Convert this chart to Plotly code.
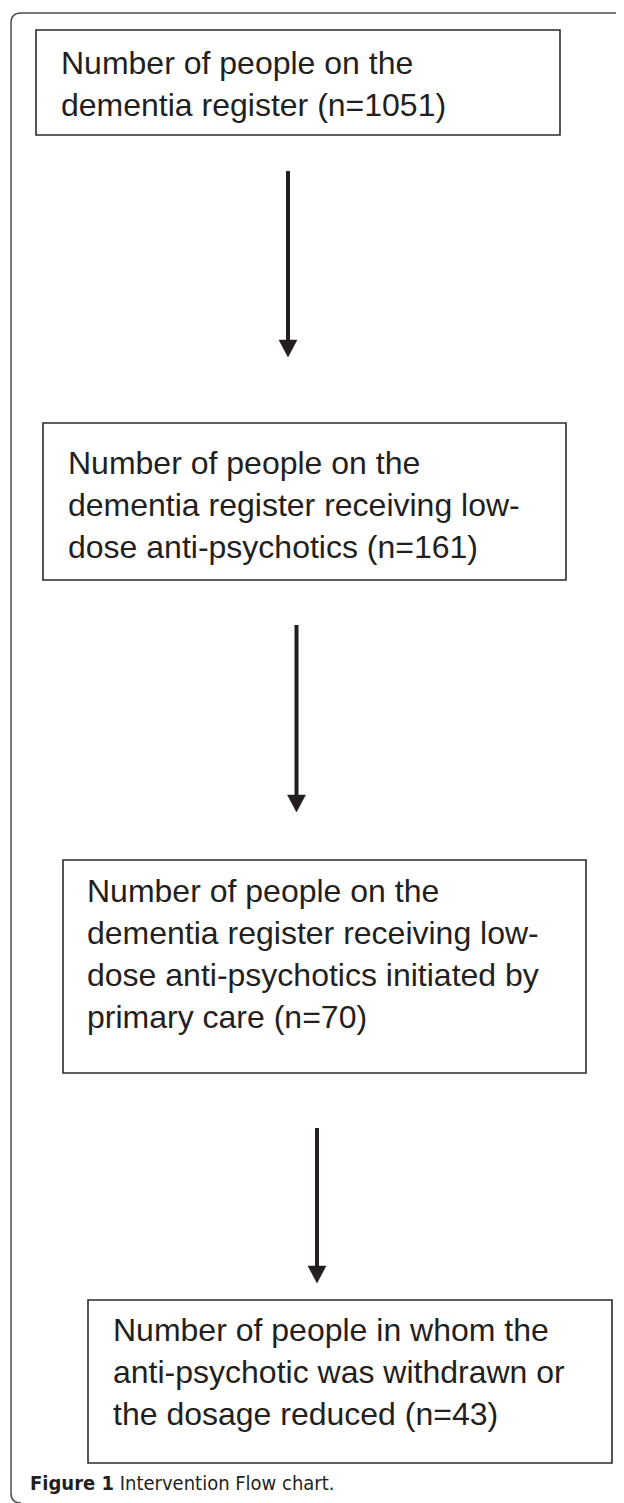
import plotly.graph_objects as go

# ---- data (text content of the flow chart) ----
step_labels = [
    ["Number of people on the", "dementia register (n=1051)"],
    ["Number of people on the", "dementia register receiving low-", "dose anti-psychotics (n=161)"],
    ["Number of people on the", "dementia register receiving low-",
     "dose anti-psychotics initiated by", "primary care (n=70)"],
    ["Number of people in whom the", "anti-psychotic was withdrawn or", "the dosage reduced (n=43)"],
]
step_counts = [1051, 161, 70, 43]
caption_bold = "Figure 1"
caption_text = " Intervention Flow chart."

# ---- layout (pixel geometry of the page) ----
W, H = 624, 1503
OFF = 8  # default page body margin in the html output
box_x0 = [36, 43, 63, 88]
box_x1 = [560, 566, 586, 612]
box_y0 = [30, 423, 860, 1300]
box_y1 = [135, 580, 1073, 1463]
text_x = [59, 66, 85, 111]
text_y0 = [63, 463, 891, 1330]
line_gap = 42
arrow_x = [288, 296.5, 317]
arrow_y0 = [171, 625, 1128]
arrow_y1 = [357, 812, 1283]

INK = "#231f20"
FONT = "Liberation Sans, Arial, Helvetica, sans-serif"

fig = go.Figure()
shapes = []
annotations = []

# outer frame with rounded corners on the left
shapes.append(dict(type="path", xref="x", yref="y",
                   path="M 660,13 L 21,13 Q 11,13 11,23 L 11,1493 Q 11,1503 21,1503",
                   line=dict(color="#4d4d4d", width=1.5)))

for i, lines in enumerate(step_labels):
    shapes.append(dict(type="rect", xref="x", yref="y",
                       x0=box_x0[i], x1=box_x1[i], y0=box_y0[i], y1=box_y1[i],
                       line=dict(color="#2b2b2b", width=1.6), fillcolor="rgba(0,0,0,0)"))
    for j, ln in enumerate(lines):
        annotations.append(dict(xref="x", yref="y", x=text_x[i], y=text_y0[i] + j * line_gap,
                                text=ln, showarrow=False, xanchor="left", yanchor="middle",
                                font=dict(family=FONT, size=32, color=INK)))

for k in range(len(arrow_x)):
    ax, ya, yb = arrow_x[k], arrow_y0[k], arrow_y1[k]
    head = 17
    shapes.append(dict(type="line", xref="x", yref="y", x0=ax, x1=ax, y0=ya, y1=yb - head + 1,
                       line=dict(color=INK, width=4)))
    shapes.append(dict(type="path", xref="x", yref="y",
                       path=f"M {ax-9},{yb-head} L {ax+9},{yb-head} L {ax},{yb} Z",
                       fillcolor=INK, line=dict(color=INK, width=0.5)))

annotations.append(dict(xref="x", yref="y", x=28, y=1483,
                        text=f"<b>{caption_bold}</b>{caption_text}", showarrow=False,
                        xanchor="left", yanchor="middle",
                        font=dict(family="DejaVu Sans Condensed, Liberation Sans Narrow, Arial Narrow, sans-serif",
                                  size=20, color=INK)))

fig.update_layout(
    width=W, height=H,
    margin=dict(l=0, r=0, t=0, b=0),
    paper_bgcolor="white", plot_bgcolor="white",
    xaxis=dict(range=[OFF, W + OFF], visible=False, fixedrange=True),
    yaxis=dict(range=[H + OFF, OFF], visible=False, fixedrange=True),
    shapes=shapes, annotations=annotations,
    showlegend=False,
)

fig.write_html("out.html")
